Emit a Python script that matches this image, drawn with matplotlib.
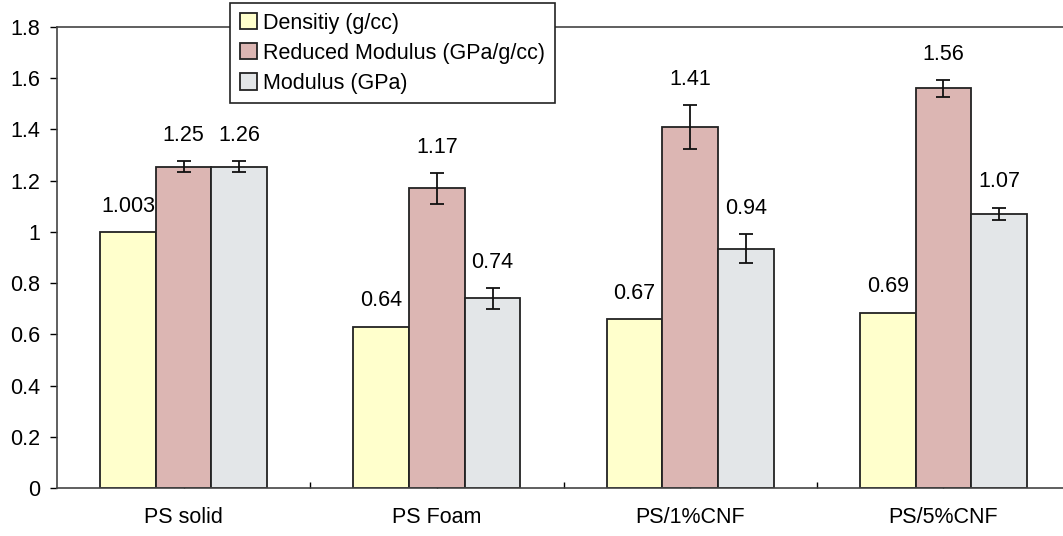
import matplotlib
matplotlib.use("Agg")
import matplotlib.pyplot as plt
import numpy as np

plt.rcParams['font.family'] = ['Liberation Sans', 'DejaVu Sans']

# data
groups = ['PS solid', 'PS Foam', 'PS/1%CNF', 'PS/5%CNF']
series = ['Densitiy (g/cc)', 'Reduced Modulus (GPa/g/cc)', 'Modulus (GPa)']
density = [1.0, 0.63, 0.66, 0.685]
reduced = [1.255, 1.17, 1.41, 1.56]
modulus = [1.255, 0.74, 0.935, 1.07]
reduced_err = [0.02, 0.06, 0.085, 0.033]
modulus_err = [0.02, 0.04, 0.055, 0.025]
density_lbl = ['1.003', '0.64', '0.67', '0.69']
reduced_lbl = ['1.25', '1.17', '1.41', '1.56']
modulus_lbl = ['1.26', '0.74', '0.94', '1.07']

colors = ['#ffffcc', '#dcb6b3', '#e3e6e8']
fs = 15.5

fig = plt.figure(figsize=(10.63, 5.36), dpi=100)
ax = fig.add_axes([57/1063, 1-488/536, (1070-57)/1063, (488-27)/536])

x = np.arange(len(groups))
w = 0.22
vals = [density, reduced, modulus]
errs = [None, reduced_err, modulus_err]
lbls = [density_lbl, reduced_lbl, modulus_lbl]
for i in range(3):
    xs = x + (i-1)*w
    ax.bar(xs, vals[i], w, color=colors[i], edgecolor='#222222', linewidth=1.3,
           label=series[i], zorder=2)
    if errs[i] is not None:
        ax.errorbar(xs, vals[i], yerr=errs[i], fmt='none', ecolor='#111111',
                    elinewidth=1.3, capsize=5, capthick=1.3, zorder=3)
    for j in range(len(groups)):
        top = vals[i][j] + (errs[i][j] if errs[i] is not None else 0)
        ax.annotate(lbls[i][j], (xs[j], top), xytext=(0, 11), textcoords='offset points',
                    ha='center', va='bottom', fontsize=fs)

ax.set_xlim(-0.5, 3.5)
ax.set_ylim(0, 1.8)
yt = np.arange(0, 1.81, 0.2)
ax.set_yticks(yt)
ax.set_yticklabels(['0', '0.2', '0.4', '0.6', '0.8', '1', '1.2', '1.4', '1.6', '1.8'])
ax.set_xticks(x)
ax.set_xticklabels(groups)
ax.set_xticks(np.arange(0.5, 3.5, 1), minor=True)
ax.tick_params(axis='y', direction='out', length=5, width=1, labelsize=fs, pad=7)
ax.tick_params(axis='x', which='both', direction='in', length=4, width=1, labelsize=fs, pad=14)

for s in ['left', 'top', 'bottom']:
    ax.spines[s].set_color('#444444')
    ax.spines[s].set_linewidth(1.2)
ax.spines['right'].set_visible(False)

leg = fig.legend(loc='upper left', bbox_to_anchor=(230/1063, 1-3/536), fontsize=fs,
                 frameon=True, fancybox=False, edgecolor='#222222', framealpha=1,
                 handlelength=0.8, handleheight=0.8, handletextpad=0.3,
                 labelspacing=0.42, borderpad=0.45, borderaxespad=0)
leg.get_frame().set_linewidth(1.2)

fig.savefig('out.png', dpi=100)
